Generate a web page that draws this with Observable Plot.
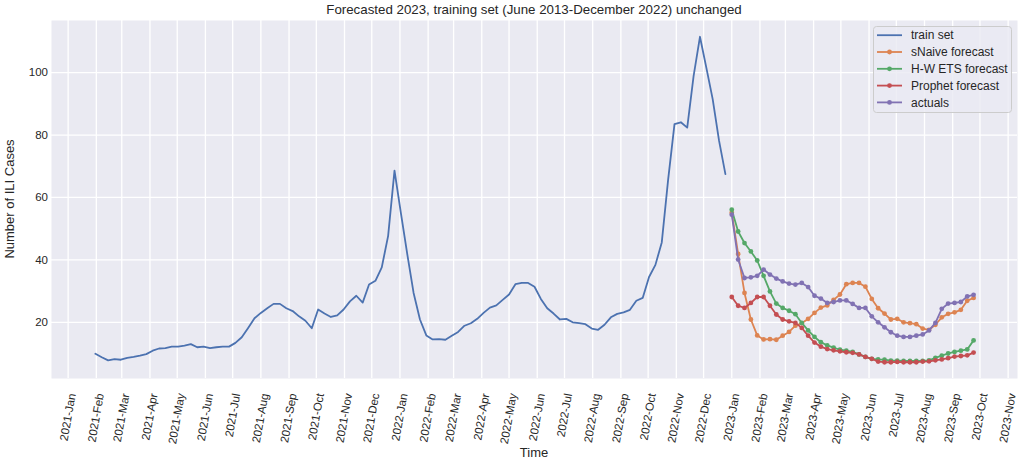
<!DOCTYPE html>
<html><head><meta charset="utf-8">
<script src="https://cdn.jsdelivr.net/npm/d3@7"></script>
<script src="https://cdn.jsdelivr.net/npm/@observablehq/plot@0.6"></script>
<style>
body{margin:0;background:#fff;font-family:"Liberation Sans",Arial,sans-serif;color:#262626}
#wrap{position:relative;width:1024px;height:462px;overflow:hidden}
.lbl{position:absolute;font-size:13px;line-height:16px;text-align:center;white-space:nowrap;color:#262626}
</style></head><body><div id="wrap"></div>
<script>
// ---------------- data ----------------
const chartTitle = "Forecasted 2023, training set (June 2013-December 2022) unchanged";
const xLabel = "Time";
const yLabel = "Number of ILI Cases";

const trainStart = "2021-01-31";   // weekly
const trainValues = [
  9.9, 8.8, 7.8, 8.2, 8.0, 8.6, 8.9, 9.3, 9.8, 10.9,
  11.6, 11.7, 12.2, 12.2, 12.5, 13.0, 12.0, 12.2, 11.7, 12.0,
  12.2, 12.2, 13.4, 15.2, 18.2, 21.3, 23.0, 24.5, 25.9, 25.9,
  24.5, 23.6, 21.9, 20.5, 18.1, 24.1, 22.8, 21.7, 22.2, 24.1,
  26.7, 28.5, 26.3, 32.1, 33.3, 37.6, 47.7, 68.6, 55.1, 41.9,
  29.4, 20.9, 15.8, 14.5, 14.6, 14.4, 15.7, 16.9, 18.9, 19.7,
  21.1, 23.0, 24.7, 25.4, 27.2, 28.9, 32.2, 32.6, 32.6, 31.4,
  27.5, 24.5, 22.8, 20.9, 21.1, 20.0, 19.7, 19.4, 18.0, 17.6,
  19.2, 21.6, 22.7, 23.2, 24.0, 26.9, 27.8, 34.5, 38.4, 45.6,
  65.7, 83.5, 84.1, 82.4, 98.9, 111.5, 101.6, 91.5, 78.2, 67.5
];

const forecastStart = "2023-01-01"; // weekly
const sNaiveValues = [
  55.1, 41.9, 29.4, 20.9, 15.8, 14.5, 14.6, 14.4, 15.7, 16.9,
  18.9, 19.7, 21.1, 23.0, 24.7, 25.4, 27.2, 28.9, 32.2, 32.6,
  32.6, 31.4, 27.5, 24.5, 22.8, 20.9, 21.1, 20.0, 19.7, 19.4,
  18.0, 17.6, 19.2, 21.6, 22.7, 23.2, 24.0, 26.9, 27.8
];
const hwEtsValues = [
  56.1, 49.1, 45.4, 42.7, 39.8, 34.9, 29.9, 26.0, 24.6, 23.7,
  22.6, 19.8, 17.4, 15.3, 13.6, 12.6, 11.9, 11.2, 10.9, 10.5,
  9.7, 8.9, 8.3, 8.1, 8.0, 7.7, 7.7, 7.6, 7.6, 7.6,
  7.6, 7.8, 8.6, 9.3, 10.0, 10.5, 10.9, 11.3, 14.2
];
const prophetValues = [
  28.1, 25.3, 24.6, 26.2, 28.1, 28.1, 25.3, 22.5, 20.9, 20.3,
  19.8, 18.2, 15.7, 13.5, 12.2, 11.4, 11.0, 10.7, 10.4, 10.2,
  9.7, 8.9, 8.3, 7.4, 7.2, 7.2, 7.3, 7.2, 7.2, 7.2,
  7.4, 7.5, 7.8, 8.1, 8.5, 9.0, 9.2, 9.4, 10.3
];
const actualValues = [
  54.5, 40.1, 34.2, 34.4, 34.9, 36.9, 35.3, 34.0, 33.1, 32.4,
  32.1, 32.6, 31.3, 28.5, 27.6, 26.2, 26.5, 27.0, 27.0, 25.9,
  24.6, 24.6, 21.9, 20.0, 18.4, 16.8, 15.7, 15.3, 15.3, 15.7,
  16.1, 17.4, 19.8, 24.3, 26.0, 26.2, 26.5, 28.3, 28.8
];

const seriesNames = ["train set", "sNaive forecast", "H-W ETS forecast", "Prophet forecast", "actuals"];
const seriesColors = ["#4C72B0", "#DD8452", "#55A868", "#C44E52", "#8172B3"];

const monthTickLabels = [
  "2021-Jan","2021-Feb","2021-Mar","2021-Apr","2021-May","2021-Jun","2021-Jul","2021-Aug","2021-Sep","2021-Oct","2021-Nov","2021-Dec",
  "2022-Jan","2022-Feb","2022-Mar","2022-Apr","2022-May","2022-Jun","2022-Jul","2022-Aug","2022-Sep","2022-Oct","2022-Nov","2022-Dec",
  "2023-Jan","2023-Feb","2023-Mar","2023-Apr","2023-May","2023-Jun","2023-Jul","2023-Aug","2023-Sep","2023-Oct","2023-Nov"
];
const yTicks = [20, 40, 60, 80, 100];

// ---------------- build tables ----------------
const parseDay = d3.utcParse("%Y-%m-%d");
const parseMonth = d3.utcParse("%Y-%b");
const weekly = (start, values) => values.map((v, i) => ({date: d3.utcDay.offset(parseDay(start), 7 * i), value: v}));
const train = weekly(trainStart, trainValues);
const forecasts = [sNaiveValues, hwEtsValues, prophetValues, actualValues].map(vs => weekly(forecastStart, vs));
const monthTicks = monthTickLabels.map(parseMonth);

const allPts = train.concat(...forecasts);
const [dMin, dMax] = d3.extent(allPts, d => +d.date);
const [vMin, vMax] = d3.extent(allPts, d => d.value);
const xPad = (dMax - dMin) * 0.05, yPad = (vMax - vMin) * 0.05;

const font = '"Liberation Sans", Arial, sans-serif';
const marks = [
  Plot.frame({fill: "#EAEAF2", stroke: "none"}),
  Plot.ruleX(monthTicks, {stroke: "white", strokeWidth: 1.3}),
  Plot.ruleY(yTicks, {stroke: "white", strokeWidth: 1.3}),
  Plot.line(train, {x: "date", y: "value", stroke: seriesColors[0], strokeWidth: 1.8})
];
forecasts.forEach((f, k) => {
  marks.push(Plot.line(f, {x: "date", y: "value", stroke: seriesColors[k + 1], strokeWidth: 1.8}));
  marks.push(Plot.dot(f, {x: "date", y: "value", r: 2.4, fill: seriesColors[k + 1]}));
});
marks.push(Plot.text(monthTicks, {
  x: d => d, text: (d, i) => monthTickLabels[i], frameAnchor: "bottom",
  rotate: -80, textAnchor: "end", lineAnchor: "middle", dx: 4, dy: 15,
  fontSize: 11.5, fill: "#262626"
}));

const chart = Plot.plot({
  width: 1024, height: 462,
  marginTop: 20, marginBottom: 84, marginLeft: 51, marginRight: 7,
  style: {fontFamily: font, fontSize: "11.5px", color: "#262626", background: "transparent", overflow: "visible"},
  x: {type: "utc", domain: [new Date(dMin - xPad), new Date(dMax + xPad)], axis: null},
  y: {domain: [vMin - yPad, vMax + yPad], ticks: yTicks, tickSize: 0, tickPadding: 3.5, label: null},
  marks
});

const wrap = document.getElementById("wrap");
wrap.appendChild(chart);

// title and axis labels
function addLabel(text, css) {
  const d = document.createElement("div");
  d.className = "lbl";
  d.textContent = text;
  Object.assign(d.style, css);
  wrap.appendChild(d);
}
addLabel(chartTitle, {left: "51px", width: "966px", top: "2px", fontSize: "13.3px"});
addLabel(xLabel, {left: "51px", width: "966px", top: "445px"});
addLabel(yLabel, {left: "-90px", width: "200px", top: "191px", transform: "rotate(-90deg)"});

// legend
const lg = d3.create("svg")
  .attr("width", 139).attr("height", 87)
  .style("position", "absolute").style("left", "873px").style("top", "26px")
  .style("font-family", font).style("font-size", "12px");
lg.append("rect").attr("x", 0.5).attr("y", 0.5).attr("width", 138).attr("height", 86).attr("rx", 3)
  .attr("fill", "rgba(234,234,242,0.8)").attr("stroke", "#cccccc");
seriesNames.forEach((name, i) => {
  const y = 9.2 + i * 16.8;
  lg.append("line").attr("x1", 4).attr("x2", 29).attr("y1", y).attr("y2", y)
    .attr("stroke", seriesColors[i]).attr("stroke-width", 1.8);
  if (i > 0) lg.append("circle").attr("cx", 16.5).attr("cy", y).attr("r", 2.4).attr("fill", seriesColors[i]);
  lg.append("text").attr("x", 38).attr("y", y).attr("dy", "0.35em").attr("fill", "#262626").text(name);
});
wrap.appendChild(lg.node());
</script></body></html>
